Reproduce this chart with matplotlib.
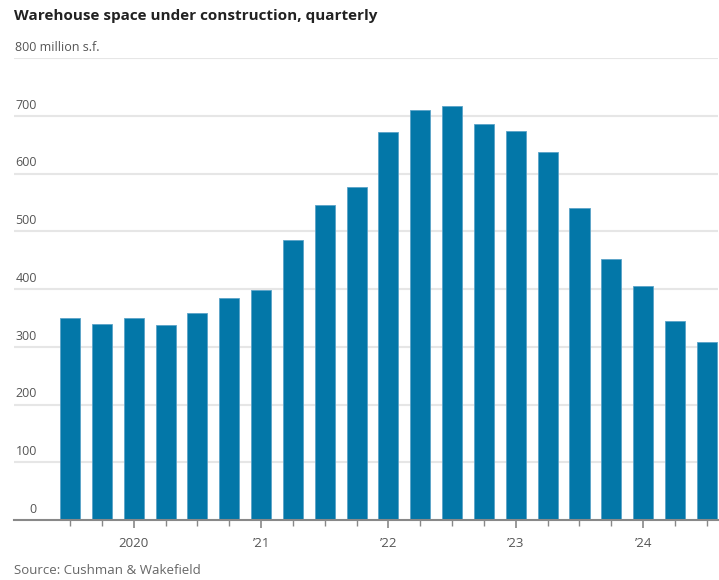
import matplotlib
matplotlib.use("Agg")
import matplotlib.pyplot as plt
import matplotlib.transforms as mtransforms
import numpy as np

# data: quarterly, 2019 Q3 .. 2024 Q3 (million sq ft)
quarters = ["2019Q3", "2019Q4",
            "2020Q1", "2020Q2", "2020Q3", "2020Q4",
            "2021Q1", "2021Q2", "2021Q3", "2021Q4",
            "2022Q1", "2022Q2", "2022Q3", "2022Q4",
            "2023Q1", "2023Q2", "2023Q3", "2023Q4",
            "2024Q1", "2024Q2", "2024Q3"]
values = [350, 340, 350, 338, 358, 384, 398, 484, 546, 576,
          671, 710, 717, 685, 673, 637, 540, 452, 406, 344, 308]
year_labels = {"2020Q1": "2020", "2021Q1": "\u201921", "2022Q1": "\u201922",
               "2023Q1": "\u201923", "2024Q1": "\u201924"}
yticks = [0, 100, 200, 300, 400, 500, 600, 700, 800]

BAR = "#0377a8"
GRID = "#e6e6e6"
TXT = "#555555"
FONT = "Open Sans"

plt.rcParams["font.family"] = [FONT, "DejaVu Sans"]

W, H = 719, 580
fig = plt.figure(figsize=(W / 100, H / 100), dpi=100)
# axes: x 14..718 px, y 58..520 px
ax = fig.add_axes([14 / W, 1 - 520 / H, (718 - 14) / W, (520 - 58) / H])

x = np.arange(len(values))
ax.bar(x, values, width=0.63, color=BAR, edgecolor="#5aa3c8", linewidth=0.6, zorder=3)

ax.set_ylim(0, 800)
ax.set_xlim(-1.76, len(values) - 1 + 0.35)

# gridlines
for v in yticks[1:]:
    ax.axhline(v, color=GRID, lw=1.5, zorder=1)
for s in ["top", "right", "left"]:
    ax.spines[s].set_visible(False)
ax.spines["bottom"].set_color("#888888")
ax.spines["bottom"].set_linewidth(1.5)
ax.spines["bottom"].set_zorder(4)

# y labels sitting above gridlines
ax.set_yticks([])
trans = mtransforms.blended_transform_factory(ax.transAxes, ax.transData)
off = mtransforms.ScaledTranslation(0, 3 / 72, fig.dpi_scale_trans)
for v in yticks:
    if v == 800:
        ax.text(0.001, v, "800 million s.f.", transform=trans + off, ha="left", va="bottom",
                fontsize=9, color=TXT)
    else:
        ax.text(23 / (718 - 14), v, str(v), transform=trans + off, ha="right", va="bottom",
                fontsize=9, color=TXT)

# x ticks: minor at every quarter, major with year label
major = [i for i, q in enumerate(quarters) if q in year_labels]
ax.set_xticks(major)
ax.set_xticklabels([year_labels[quarters[i]] for i in major], fontsize=9.5, color=TXT)
ax.set_xticks(x, minor=True)
ax.tick_params(axis="x", which="major", length=6, width=1.2, color="#888888", pad=6)
ax.tick_params(axis="x", which="minor", length=4, width=1.0, color="#888888")

fig.text(14 / W, 1 - 16 / H, "Warehouse space under construction, quarterly",
         fontsize=11, fontweight="bold", color="#222222", ha="left", va="center")
fig.text(14 / W, 1 - 571 / H, "Source: Cushman & Wakefield",
         fontsize=9.5, color="#666666", ha="left", va="center")

fig.savefig("out.png", dpi=100)
